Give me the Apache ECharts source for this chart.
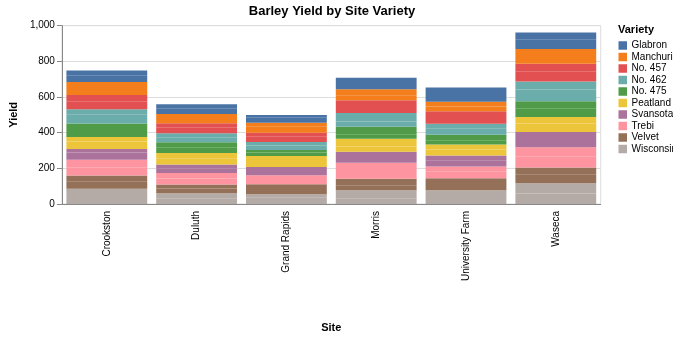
<!DOCTYPE html>
<html>
<head>
<meta charset="utf-8">
<script src="https://cdn.jsdelivr.net/npm/echarts@6/dist/echarts.min.js"></script>
<style>html,body{margin:0;padding:0;background:#fff}#c{width:673px;height:338px}</style>
</head>
<body>
<div id="c"></div>
<script>
// Sites (x categories)
const sites = ["Crookston", "Duluth", "Grand Rapids", "Morris", "University Farm", "Waseca"];
// Varieties in legend order
const varieties = ["Glabron", "Manchuria", "No. 457", "No. 462", "No. 475", "Peatland", "Svansota", "Trebi", "Velvet", "Wisconsin No. 38"];
const varietyColors = ["#4a73a5", "#f47d1c", "#e25051", "#6badaa", "#4f9b47", "#edc53a", "#ab729b", "#fe949f", "#957058", "#b4aaa6"];
// Yield per variety (rows, legend order) per site (columns), 1931
const yield1931 = [
  [38.13, 29.67, 29.13, 28.77, 43.07, 55.20],
  [39.93, 28.97, 32.97, 27.43, 27.00, 48.87],
  [45.67, 33.60, 32.17, 28.70, 43.27, 58.10],
  [48.57, 28.10, 24.93, 30.37, 36.60, 65.77],
  [44.10, 33.07, 19.70, 22.60, 24.67, 46.77],
  [41.60, 32.00, 34.70, 29.87, 32.77, 48.57],
  [40.47, 25.70, 29.67, 25.77, 35.13, 47.33],
  [46.93, 33.93, 29.77, 43.77, 36.57, 63.83],
  [41.33, 26.30, 23.03, 26.13, 39.90, 50.23],
  [49.87, 31.60, 34.47, 29.47, 39.30, 58.80]
];
// Yield per variety per site, 1932
const yield1932 = [
  [26.17, 25.87, 14.43, 35.13, 36.80, 37.73],
  [32.97, 22.57, 22.13, 34.37, 26.90, 33.47],
  [34.33, 22.70, 19.47, 43.53, 26.43, 42.20],
  [30.53, 22.50, 19.90, 47.00, 25.57, 44.70],
  [32.13, 27.37, 15.23, 44.23, 30.00, 41.27],
  [25.23, 31.37, 26.77, 43.20, 28.07, 36.03],
  [20.63, 22.23, 16.63, 35.03, 27.43, 38.50],
  [41.83, 30.60, 20.63, 46.63, 29.07, 49.23],
  [32.07, 22.47, 32.23, 38.83, 26.80, 37.40],
  [35.90, 29.33, 20.67, 47.17, 38.00, 58.17]
];
const yTicks = [0, 200, 400, 600, 800, 1000];

const FONT = "'Liberation Sans', Arial, Helvetica, sans-serif";
const series = [];
// stack bottom-to-top: last variety first; within variety 1931 then 1932
for (let i = varieties.length - 1; i >= 0; i--) {
  [yield1931, yield1932].forEach(yr => {
    series.push({
      type: 'bar',
      name: varieties[i],
      stack: 'total',
      barCategoryGap: '10%',
      data: yr[i],
      itemStyle: { color: varietyColors[i] },
      emphasis: { disabled: true }
    });
  });
}

const chart = echarts.init(document.getElementById('c'), null, { renderer: 'canvas' });
chart.setOption({
  animation: false,
  textStyle: { fontFamily: FONT },
  title: [
    { text: 'Barley Yield by Site Variety', left: 332, top: 4.5, textAlign: 'center', padding: 0,
      textStyle: { fontFamily: FONT, fontSize: 13, fontWeight: 'bold', color: '#000' } },
    { text: 'Variety', left: 618, top: 24, padding: 0,
      textStyle: { fontFamily: FONT, fontSize: 11, fontWeight: 'bold', color: '#000' } }
  ],
  legend: {
    data: varieties,
    orient: 'vertical',
    left: 618.5, top: 40.5,
    padding: 0,
    itemWidth: 8.5, itemHeight: 8.5, itemGap: 1.5,
    icon: 'rect',
    selectedMode: false,
    textStyle: { fontFamily: FONT, fontSize: 10, color: '#000', padding: [0, 0, 0, -0.5], lineHeight: 9 }
  },
  grid: {
    left: 61.5, right: 72.3, top: 25.7, bottom: 133.7,
    show: true, borderColor: '#ddd', borderWidth: 1, backgroundColor: 'transparent'
  },
  xAxis: {
    type: 'category',
    data: sites,
    name: 'Site',
    nameLocation: 'middle',
    nameGap: 118,
    nameTextStyle: { fontFamily: FONT, fontSize: 11, fontWeight: 'bold', color: '#000' },
    axisLine: { lineStyle: { color: '#888' } },
    axisTick: { alignWithLabel: true, length: 5, lineStyle: { color: '#888' } },
    axisLabel: { rotate: 90, margin: 7, fontSize: 10, color: '#000', fontFamily: FONT, interval: 0 },
    splitLine: { show: false }
  },
  yAxis: {
    type: 'value',
    min: yTicks[0], max: yTicks[yTicks.length - 1], interval: 200,
    name: 'Yield',
    nameLocation: 'middle',
    nameGap: 40,
    nameRotate: 90,
    nameTextStyle: { fontFamily: FONT, fontSize: 11, fontWeight: 'bold', color: '#000' },
    axisLine: { show: true, lineStyle: { color: '#888' } },
    axisTick: { show: true, length: 5, lineStyle: { color: '#888' } },
    axisLabel: { margin: 7, fontSize: 10, color: '#000', fontFamily: FONT,
      formatter: v => v.toLocaleString('en-US') },
    splitLine: { lineStyle: { color: '#ddd' } }
  },
  series: series
});
</script>
</body>
</html>
